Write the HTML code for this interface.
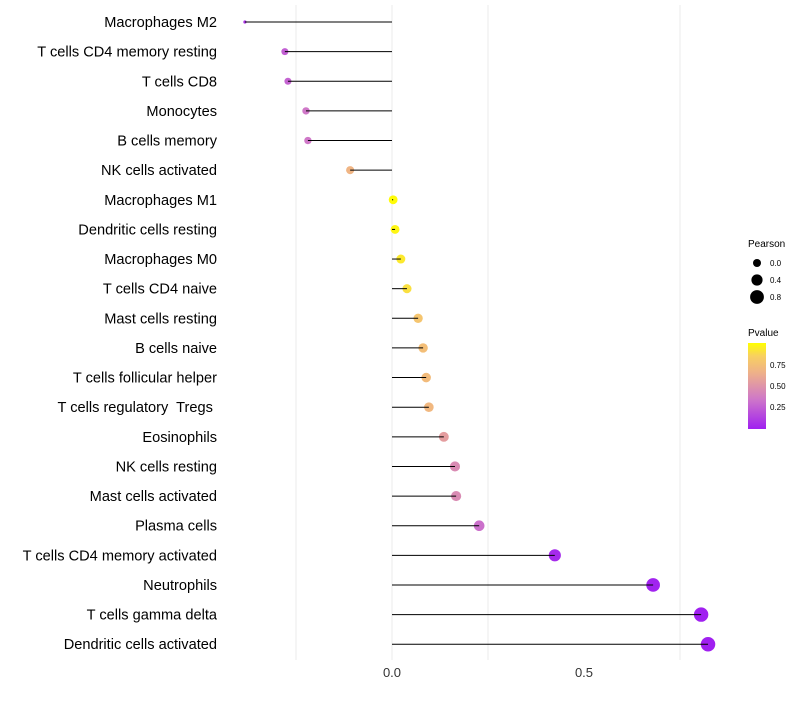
<!DOCTYPE html>
<html><head><meta charset="utf-8"><style>
body{margin:0;background:#fff;font-family:"Liberation Sans",sans-serif}
svg text{font-family:"Liberation Sans",sans-serif;white-space:pre}
</style></head><body>
<svg id="chart" width="800" height="700">
<defs><linearGradient id="pg" x1="0" y1="1" x2="0" y2="0">
<stop offset="0" stop-color="#a020f0"/><stop offset="0.35" stop-color="#cf78c8"/><stop offset="0.65" stop-color="#eeb08a"/><stop offset="0.85" stop-color="#f8d060"/><stop offset="1" stop-color="#ffff00"/>
</linearGradient></defs>
<g id="grid"></g><g id="marks"></g><g id="labels"></g>
<g>
<text x="748" y="247" font-size="10" fill="#000">Pearson</text>
<circle cx="757" cy="263" r="4" fill="#000"/>
<text x="770" y="266" font-size="8">0.0</text>
<circle cx="757" cy="280" r="5.6" fill="#000"/>
<text x="770" y="283" font-size="8">0.4</text>
<circle cx="757" cy="297" r="6.9" fill="#000"/>
<text x="770" y="300" font-size="8">0.8</text>
<text x="748" y="336" font-size="10">Pvalue</text>
<rect x="748" y="343" width="18" height="86" fill="url(#pg)"/>
<text x="770" y="368" font-size="8">0.75</text>
<text x="770" y="389" font-size="8">0.50</text>
<text x="770" y="410" font-size="8">0.25</text>
</g>
</svg>
<script>
const categories=["Macrophages M2","T cells CD4 memory resting","T cells CD8","Monocytes","B cells memory","NK cells activated","Macrophages M1","Dendritic cells resting","Macrophages M0","T cells CD4 naive","Mast cells resting","B cells naive","T cells follicular helper","T cells regulatory  Tregs ","Eosinophils","NK cells resting","Mast cells activated","Plasma cells","T cells CD4 memory activated","Neutrophils","T cells gamma delta","Dendritic cells activated"];
const pearson=[-0.383,-0.279,-0.271,-0.224,-0.219,-0.109,0.003,0.008,0.023,0.039,0.068,0.081,0.089,0.096,0.135,0.164,0.167,0.227,0.424,0.680,0.805,0.823];
const pvalue=[0.08,0.25,0.27,0.35,0.35,0.68,0.99,0.97,0.93,0.9,0.78,0.74,0.72,0.7,0.55,0.45,0.45,0.32,0.04,0.01,0.001,0.001];
const xTicks=[0,0.5];
const xTickLabels=["0.0","0.5"];
const gridVals=[-0.25,0,0.25,0.75];
const x=v=>392+v*384;
const y=i=>22+i*29.63;
const NS="http://www.w3.org/2000/svg";
function mk(t,a,p){const e=document.createElementNS(NS,t);for(const k in a)e.setAttribute(k,a[k]);p.appendChild(e);return e;}
const stops=[[0,[160,32,240]],[0.35,[207,120,200]],[0.65,[238,176,138]],[0.85,[248,208,96]],[1,[255,255,0]]];
function col(p){for(let i=1;i<stops.length;i++){if(p<=stops[i][0]){const a=stops[i-1],b=stops[i],t=(p-a[0])/(b[0]-a[0]);return "rgb("+a[1].map((c,j)=>Math.round(c+(b[1][j]-c)*t)).join(",")+")";}}return "rgb(255,255,0)";}
const sv=[-0.383,-0.28,0,0.4,0.8,1];
const sr=[1.6,3.5,4.4,6,7.2,7.5];
function rad(v){if(v<=sv[0])return sr[0];for(let i=1;i<sv.length;i++){if(v<=sv[i]){const t=(v-sv[i-1])/(sv[i]-sv[i-1]);return sr[i-1]+(sr[i]-sr[i-1])*t;}}return sr[sr.length-1];}
const grid=document.getElementById('grid'),marks=document.getElementById('marks'),labels=document.getElementById('labels');
gridVals.forEach(g=>{const l=mk('line',{x1:x(g),x2:x(g),y1:5,y2:660,stroke:'#ebebeb','stroke-width':1},grid);

});
xTicks.forEach((t,i)=>{const tx=mk('text',{x:x(t),y:677,'font-size':13,'text-anchor':'middle',fill:'#333'},labels);tx.textContent=xTickLabels[i];

});
categories.forEach((c,i)=>{
const t=mk('text',{x:217,y:y(i)+5,'font-size':14.6,'text-anchor':'end',fill:'#000'},labels);t.textContent=c;


const cc=mk('circle',{cx:x(pearson[i]),cy:y(i),r:rad(pearson[i]),fill:col(pvalue[i])},marks);


const l=mk('line',{x1:x(0),x2:x(pearson[i]),y1:y(i),y2:y(i),stroke:'#000','stroke-width':1},marks);


});
</script>
</body></html>
